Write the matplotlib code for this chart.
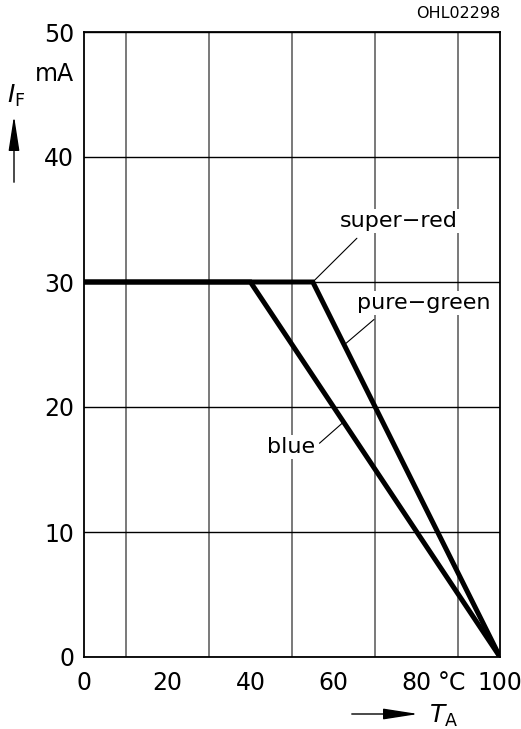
import matplotlib
matplotlib.use("Agg")
import matplotlib.pyplot as plt

# derating curves: ambient temperature (degC) vs max forward current (mA)
t_blue = [0, 40, 100]
i_blue = [30, 30, 0]
t_red_green = [0, 55, 100]
i_red_green = [30, 30, 0]

x_ticks = [0, 20, 40, 60, 80, 100]
y_ticks = [0, 10, 20, 30, 40, 50]

plt.rcParams["font.family"] = "DejaVu Sans"
FS = 17
LFS = 16

fig = plt.figure(figsize=(5.21, 7.29), dpi=100)
ax = fig.add_axes([84 / 521, 72 / 729, 416 / 521, 625 / 729])

ax.set_xlim(0, 100)
ax.set_ylim(0, 50)
ax.set_xticks(x_ticks)
ax.set_xticks(range(0, 101, 10), minor=True)
ax.set_yticks(y_ticks)
ax.tick_params(axis="both", which="both", length=0, labelsize=FS)
ax.tick_params(axis="x", pad=10)
ax.tick_params(axis="y", pad=7)

ax.grid(axis="x", which="minor", color="#555555", lw=1.1)
ax.grid(axis="y", which="major", color="black", lw=1.0)
ax.set_axisbelow(True)
for s in ax.spines.values():
    s.set_linewidth(1.3)

ax.plot(t_red_green, i_red_green, color="black", lw=3.6, solid_joinstyle="miter", zorder=3)
ax.plot(t_blue, i_blue, color="black", lw=3.6, solid_joinstyle="miter", zorder=3)

box = dict(facecolor="white", edgecolor="none", pad=1.5)
lead = dict(arrowstyle="-", color="black", lw=0.8, shrinkA=0, shrinkB=0)

ax.annotate("", xy=(55, 30), xytext=(65.6, 33.5), arrowprops=lead, zorder=4)
ax.text(61.4, 34.9, "super\u2212red", fontsize=LFS, ha="left", va="center", bbox=box, zorder=5)

ax.annotate("", xy=(63.0, 25.1), xytext=(69.7, 27.0), arrowprops=lead, zorder=4)
ax.text(65.6, 28.3, "pure\u2212green", fontsize=LFS, ha="left", va="center", bbox=box, zorder=5)

ax.annotate("", xy=(62.4, 18.8), xytext=(56.6, 17.1), arrowprops=lead, zorder=4)
ax.text(55.5, 16.8, "blue", fontsize=LFS, ha="right", va="center", bbox=box, zorder=5)

# unit label on x axis between 80 and 100
ax.annotate("\u00b0C", xy=(88.5, 0), xycoords=("data", "axes fraction"),
            xytext=(0, -10), textcoords="offset points",
            ha="center", va="top", fontsize=FS)

# y axis label with arrow
fig.text(74 / 521, 1 - 74 / 729, "mA", fontsize=FS, ha="right", va="center")
fig.text(7 / 521, 1 - 96 / 729, r"$I_{\mathrm{F}}$", fontsize=18, ha="left", va="center")
fig.patches.append(matplotlib.patches.FancyArrowPatch(
    (14 / 521, 1 - 185 / 729), (14 / 521, 1 - 113 / 729),
    transform=fig.transFigure, arrowstyle="-|>,head_length=1.8,head_width=0.28",
    mutation_scale=12, color="black", lw=1.0))

# x axis label with arrow
fig.patches.append(matplotlib.patches.FancyArrowPatch(
    (349 / 521, 1 - 714 / 729), (421 / 521, 1 - 714 / 729),
    transform=fig.transFigure, arrowstyle="-|>,head_length=1.8,head_width=0.28",
    mutation_scale=12, color="black", lw=1.0))
fig.text(429 / 521, 1 - 716 / 729, r"$T_{\mathrm{A}}$", fontsize=18, ha="left", va="center")

fig.text(500 / 521, 1 - 14 / 729, "OHL02298", fontsize=11.5, ha="right", va="center")

fig.savefig("out.png", dpi=100)
